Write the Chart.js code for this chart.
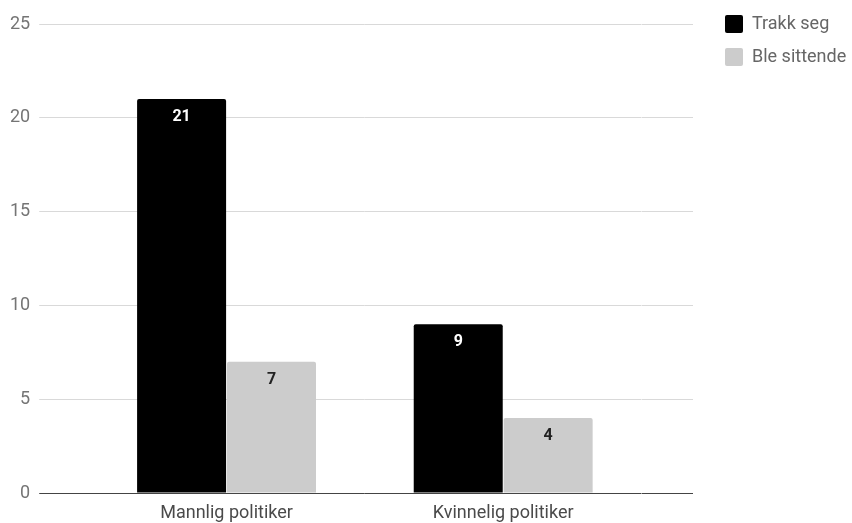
<!DOCTYPE html>
<html>
<head>
<meta charset="utf-8">
<script src="https://cdn.jsdelivr.net/npm/chart.js@4/dist/chart.umd.min.js"></script>
<style>
  html, body { margin: 0; padding: 0; background: #fff; }
  #wrap { width: 852px; height: 523px; }
</style>
</head>
<body>
<div id="wrap"><canvas id="politikerChart"></canvas></div>
<script>
const categories = ['Mannlig politiker', 'Kvinnelig politiker'];
const trakkSeg = [21, 9];
const bleSittende = [7, 4];
const seriesNames = ['Trakk seg', 'Ble sittende'];
const yTicks = [0, 5, 10, 15, 20, 25];

const gridColor = ctx => ctx.tick && ctx.tick.value === 0 ? '#444' : '#d9d9d9';

// skriver verdiene inne i toppen av hver stolpe
const barLabels = {
    id: 'barLabels',
    afterDatasetsDraw(chart) {
        const ctx = chart.ctx;
        const colors = ['#fff', '#222'];
        chart.data.datasets.forEach((ds, i) => {
            chart.getDatasetMeta(i).data.forEach((bar, j) => {
                ctx.save();
                ctx.fillStyle = colors[i];
                ctx.font = 'bold 16px Roboto';
                ctx.textAlign = 'center';
                ctx.textBaseline = 'middle';
                ctx.fillText(ds.data[j], bar.x, bar.y + 18);
                ctx.restore();
            });
        });
    }
};

new Chart(document.getElementById('politikerChart').getContext('2d'), {
    type: 'bar',
    data: {
        labels: categories,
        datasets: [{
            label: seriesNames[0],
            data: trakkSeg,
            backgroundColor: '#000',
            borderRadius: {topLeft: 2, topRight: 2},
            categoryPercentage: 0.65,
            barPercentage: 0.99
        }, {
            label: seriesNames[1],
            data: bleSittende,
            backgroundColor: '#cccccc',
            borderRadius: {topLeft: 2, topRight: 2},
            categoryPercentage: 0.65,
            barPercentage: 0.99
        }]
    },
    options: {
        responsive: true,
        maintainAspectRatio: false,
        animation: false,
        layout: { padding: { top: 0, left: 1, right: 0, bottom: 0 } },
        plugins: {
            tooltip: { enabled: false },
            legend: {
                position: 'right',
                align: 'start',
                maxWidth: 142,
                labels: {
                    boxWidth: 18,
                    boxHeight: 18,
                    useBorderRadius: true,
                    borderRadius: 2,
                    padding: 15,
                    color: '#666',
                    font: { family: 'Roboto', size: 18 }
                }
            }
        },
        scales: {
            x: {
                afterFit: scale => { scale.height = 30; },
                grid: { display: false, drawTicks: false },
                border: { display: false },
                ticks: { color: '#4a4a4a', font: { family: 'Roboto', size: 18 }, padding: 10 }
            },
            y: {
                position: 'left',
                min: 0,
                max: 25,
                afterBuildTicks: scale => { scale.ticks = yTicks.map(v => ({ value: v })); },
                afterFit: scale => { scale.paddingTop = 24; },
                border: { display: false },
                grid: { color: gridColor, tickColor: gridColor, tickLength: 49 },
                ticks: { color: '#757575', font: { family: 'Roboto', size: 18 }, padding: 9 }
            },
            y2: {
                position: 'right',
                min: 0,
                max: 25,
                afterBuildTicks: scale => { scale.ticks = yTicks.map(v => ({ value: v })); },
                afterFit: scale => { scale.width = 51.5 + 17; },
                border: { display: false },
                grid: { drawOnChartArea: false, color: gridColor, tickColor: gridColor, tickLength: 51.5 },
                ticks: { display: false }
            }
        }
    },
    plugins: [barLabels]
});
</script>
</body>
</html>
